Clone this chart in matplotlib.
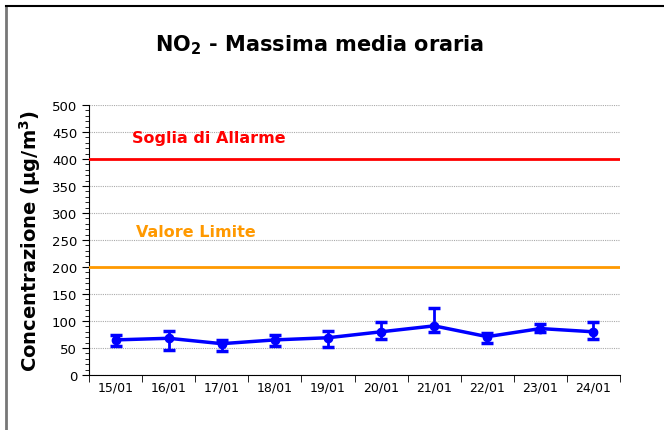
import numpy as np
import matplotlib.pyplot as plt
from matplotlib.ticker import MultipleLocator
from matplotlib.lines import Line2D

# data
days = ['15/01', '16/01', '17/01', '18/01', '19/01', '20/01', '21/01', '22/01', '23/01', '24/01']
no2_max = [65, 68, 58, 65, 69, 80, 91, 71, 86, 80]
err_low = [53, 46, 44, 54, 52, 67, 79, 60, 80, 67]
err_high = [75, 81, 64, 75, 81, 99, 124, 77, 94, 98]
soglia_allarme = 400
valore_limite = 200

fig = plt.figure(figsize=(6.64, 4.31), dpi=100)
ax = fig.add_axes([89/664, 1 - 376/431, (620 - 89)/664, (376 - 106)/431])

x = np.arange(len(days))
yerr = [np.array(no2_max) - np.array(err_low), np.array(err_high) - np.array(no2_max)]

ax.axhline(soglia_allarme, color='#ff0000', lw=2, zorder=3)
ax.axhline(valore_limite, color='#ff9900', lw=2, zorder=3)
ax.errorbar(x, no2_max, yerr=yerr, color='#0000ff', lw=2.5, marker='o', ms=6,
            capsize=4, capthick=2.5, elinewidth=2, zorder=4)

ax.text(1.76, 440, 'Soglia di Allarme', color='#ff0000', fontsize=11.5, fontweight='bold', ha='center', va='center')
ax.text(1.51, 265, 'Valore Limite', color='#ff9900', fontsize=11.5, fontweight='bold', ha='center', va='center')

ax.set_xlim(-0.5, len(days) - 0.5)
ax.set_ylim(0, 500)
ax.set_xticks(x)
ax.set_xticklabels(days, fontsize=9)
ax.set_xticks(np.arange(-0.5, len(days)), minor=True)
ax.tick_params(axis='x', which='major', length=0, pad=4)
ax.tick_params(axis='x', which='minor', length=5, direction='out')
ax.yaxis.set_major_locator(MultipleLocator(50))
ax.yaxis.set_minor_locator(MultipleLocator(10))
ax.tick_params(axis='y', which='major', length=5, labelsize=9.5)
ax.tick_params(axis='y', which='minor', length=3)
ax.grid(axis='y', which='major', color='#aaaaaa', ls=(0, (1, 1)), lw=0.8)
ax.spines['top'].set_visible(False)
ax.spines['right'].set_visible(False)

ax.set_ylabel('Concentrazione (µg/m$^\\mathbf{3}$)', fontsize=14, fontweight='bold', labelpad=6)
fig.text(320/664, 1 - 45/431, 'NO$_\\mathbf{2}$ - Massima media oraria', fontsize=15, fontweight='bold',
         ha='center', va='center')

# outer frame: only left and top edges visible
fig.add_artist(Line2D([6/664, 6/664], [0, 1 - 7/431], color='#777777', lw=2, transform=fig.transFigure))
fig.add_artist(Line2D([6/664, 1], [1 - 7/431, 1 - 7/431], color='black', lw=1.5, transform=fig.transFigure))

plt.savefig('out.png')
